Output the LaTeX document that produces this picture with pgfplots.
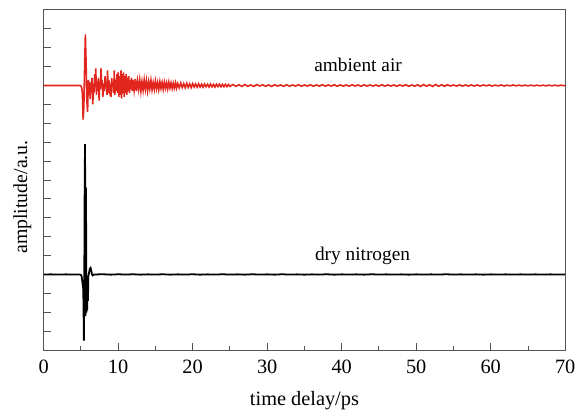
\documentclass[border=0pt]{standalone}
\usepackage{pgfplots}
\pgfplotsset{compat=1.18}
\usepackage{fontspec}
\setmainfont{Liberation Serif}
\definecolor{airred}{RGB}{225,38,30}
\definecolor{framegray}{RGB}{85,85,85}
\begin{document}
\fontsize{20}{23}\selectfont
\begin{tikzpicture}
\begin{axis}[
  scale only axis,
  width=526pt, height=343pt,
  xmin=0, xmax=70, ymin=0, ymax=18,
  axis line style={framegray, line width=0.9pt},
  xtick={0,10,...,70},
  minor xtick={5,15,...,65},
  ytick={1,...,17},
  yticklabels={},
  tick pos=left,
  tick align=inside,
  major tick length=7pt,
  minor tick length=4pt,
  tick style={framegray, line width=0.9pt},
  /pgf/number format/assume math mode=true,
  xticklabel style={font=\fontsize{20.5}{23}\selectfont, yshift=-3pt},
  xlabel={time delay/ps},
  ylabel={amplitude/a.u.},
  xlabel style={font=\fontsize{20.5}{23}\selectfont, yshift=-4pt},
  ylabel style={font=\fontsize{20}{23}\selectfont, at={(ticklabel cs:0.45)}, yshift=-8pt},
]
\addplot[airred, line width=1.6pt] coordinates {
(0,14)(4.9,14)(5.0,13.98)(5.1,13.9)(5.2,13.6)(5.3,12.2)(5.4,12.9)(5.5,15.0)(5.6,16.7)(5.7,15.2)(5.8,13.2)(5.9,12.6)
(6.0,14.3)(6.08,13.7)(6.15,14.2)(6.25,13.3)(6.33,14.1)(6.4,13.8)(6.5,14.4)(6.6,13.0)(6.68,14.0)(6.75,13.6)
(6.85,14.6)(6.92,13.9)(7.0,14.9)(7.08,13.5)(7.15,14.2)(7.25,13.7)(7.35,14.4)(7.45,13.2)(7.52,14.1)(7.6,13.8)
(7.7,14.9)(7.78,13.9)(7.85,14.3)(7.95,13.4)(8.05,14.1)(8.15,13.7)(8.25,14.5)(8.32,13.9)(8.4,14.2)(8.5,13.5)
(8.58,14.8)(8.66,13.6)(8.75,14.3)(8.85,13.8)(8.95,14.1)(9.05,13.4)(9.13,14.4)(9.22,13.9)(9.3,14.2)(9.4,13.6)
(9.48,14.8)(9.56,13.5)(9.65,14.3)(9.75,13.7)(9.85,14.6)(9.93,13.6)(10.02,14.7)(10.1,13.4)(10.2,14.5)(10.3,13.5)
(10.38,14.8)(10.46,13.3)(10.55,14.6)(10.65,13.6)(10.73,14.7)(10.82,13.4)(10.9,14.5)(11.0,13.6)(11.08,14.6)
(11.17,13.5)(11.25,14.4)(11.35,13.7)(11.43,14.5)(11.52,13.6)(11.6,14.3)(11.7,13.8)(11.8,14.4)(11.9,13.7)
(12.0,14.3)(12.15,13.75)(12.3,14.35)(12.45,13.7)(12.6,14.25)(12.75,13.8)(12.9,14.3)(13.05,13.7)(13.2,14.2)
(13.35,13.75)(13.5,14.3)(13.65,13.8)(13.8,14.25)(13.95,13.72)(14.1,14.2)(14.25,13.82)(14.4,14.28)(14.55,13.78)
(14.7,14.15)(14.85,13.8)(15,14.24)(15.15,13.84)(15.3,14.15)(15.45,13.78)(15.6,14.2)(15.75,13.85)(15.9,14.16)
(16.05,13.8)(16.2,14.18)(16.35,13.86)(16.5,14.14)(16.65,13.82)(16.8,14.17)(16.95,13.87)(17.1,14.14)(17.25,13.84)
(17.4,14.12)(17.55,13.87)(17.7,14.15)(17.85,13.86)(18,14.1)(18.2,13.88)(18.4,14.13)(18.6,13.89)(18.8,14.1)
(19,13.88)(19.2,14.12)(19.4,13.9)(19.6,14.09)(19.8,13.89)(20,14.1)(20.2,13.92)(20.4,14.08)(20.6,13.91)
(20.8,14.09)(21,13.92)(21.2,14.07)(21.4,13.91)(21.6,14.08)(21.8,13.93)(22,14.07)(22.2,13.92)(22.4,14.08)
(22.6,13.93)(22.8,14.06)(23,13.92)(23.2,14.07)(23.4,13.94)(23.6,14.07)(23.8,13.93)(24,14.06)(24.2,13.94)
(24.4,14.06)(24.6,13.94)(24.8,14.05)(25,13.95)
(25.4,14.05)(25.8,13.96)(26.2,14.04)(26.6,13.95)(27,14.05)(27.4,13.96)(27.8,14.03)(28.2,13.95)(28.6,14.05)
(29,13.97)(29.4,14.04)(29.8,13.96)(30.2,14.03)(30.6,13.95)(31,14.04)(31.4,13.97)(31.8,14.03)(32.2,13.96)
(32.6,14.04)(33,13.96)(33.4,14.03)(33.8,13.97)(34.2,14.04)(34.6,13.96)(35,14.03)(35.4,13.97)(35.8,14.04)
(36.2,13.96)(36.6,14.03)(37,13.97)(37.4,14.04)(37.8,13.96)(38.2,14.03)(38.6,13.97)(39,14.04)(39.4,13.96)
(39.8,14.03)(40.2,13.97)(40.6,14.03)(41,13.96)(41.4,14.04)(41.8,13.97)(42.2,14.03)(42.6,13.96)(43,14.04)
(43.4,13.97)(43.8,14.03)(44.2,13.97)(44.6,14.03)(45,13.96)(45.4,14.04)(45.8,13.97)(46.2,14.03)(46.6,13.97)
(47,14.03)(47.4,13.96)(47.8,14.03)(48.2,13.97)(48.6,14.04)(49,13.96)(49.4,14.03)(49.8,13.96)(50.2,14.04)
(50.6,13.95)(51,14.05)(51.4,13.96)(51.8,14.04)(52.2,13.95)(52.6,14.05)(53,13.96)(53.4,14.04)(53.8,13.96)
(54.2,14.04)(54.6,13.97)(55,14.03)(55.4,13.97)(55.8,14.03)(56.2,13.97)(56.6,14.03)(57,13.97)(57.4,14.03)
(57.8,13.97)(58.2,14.03)(58.6,13.97)(59,14.03)(59.4,13.98)(59.8,14.03)(60.2,13.97)(60.6,14.02)(61,13.98)
(61.4,14.03)(61.8,13.97)(62.2,14.02)(62.6,13.98)(63,14.03)(63.4,13.98)(63.8,14.02)(64.2,13.98)(64.6,14.02)
(65,13.98)(65.4,14.02)(65.8,13.98)(66.2,14.02)(66.6,13.98)(67,14.02)(67.4,13.98)(67.8,14.02)(68.2,13.98)
(68.6,14.02)(69,13.98)(69.4,14.02)(69.8,13.99)(70,14.01)
};
\addplot[black, line width=1.8pt] coordinates {
(0,4)(1,4.005)(2,3.995)(3,4.005)(4,3.995)(4.8,4.0)(5.0,3.98)(5.1,3.9)(5.2,3.6)(5.3,3.3)(5.35,2.5)(5.4,0.5)
(5.45,3.0)(5.5,8.0)(5.55,10.9)(5.6,7.5)(5.63,1.8)(5.66,3.0)(5.69,8.6)(5.72,3.2)(5.76,2.0)(5.8,3.8)
(5.85,2.1)(5.9,3.5)(5.95,2.6)(6.0,3.9)(6.1,4.1)(6.2,4.3)(6.3,4.35)(6.4,4.2)(6.5,4.0)(6.6,3.95)(6.8,4.0)
(8,4.01)(9,3.99)(10,4.01)(11,3.995)(12,4.01)(13,3.99)(14,4.005)(15,3.995)(16,4.01)(17,3.99)(18,4.005)
(19,3.995)(20,4.01)(21,3.99)(22,4.005)(23,3.995)(24,4.01)(25,3.995)(26,4.005)(27,3.99)(28,4.01)(29,3.995)
(30,4.005)(31,3.99)(32,4.01)(33,3.995)(34,4.005)(35,3.99)(36,4.005)(37,3.995)(38,4.01)(39,3.99)(40,4.005)
(41,3.995)(42,4.005)(43,3.99)(44,4.01)(45,3.995)(46,4.005)(47,3.995)(48,4.005)(49,3.99)(50,4.005)(51,3.995)
(52,4.005)(53,3.995)(54,4.01)(55,3.995)(56,4.005)(57,3.995)(58,4.005)(59,3.99)(60,4.005)(61,3.995)(62,4.005)
(63,3.995)(64,4.005)(65,3.995)(66,4.005)(67,3.995)(68,4.005)(69,3.995)(70,4.0)
};
\node[font=\fontsize{19.5}{22}\selectfont] at (axis cs:42.2,15.1) {ambient air};
\node[font=\fontsize{19.5}{22}\selectfont] at (axis cs:42.8,5.0) {dry nitrogen};
\end{axis}
\path (current axis.south west) ++(-44pt,-63pt) coordinate (bbA);
\path (current axis.north east) ++(12pt,10pt) coordinate (bbB);
\path (bbA) rectangle (bbB);
\end{tikzpicture}
\end{document}
